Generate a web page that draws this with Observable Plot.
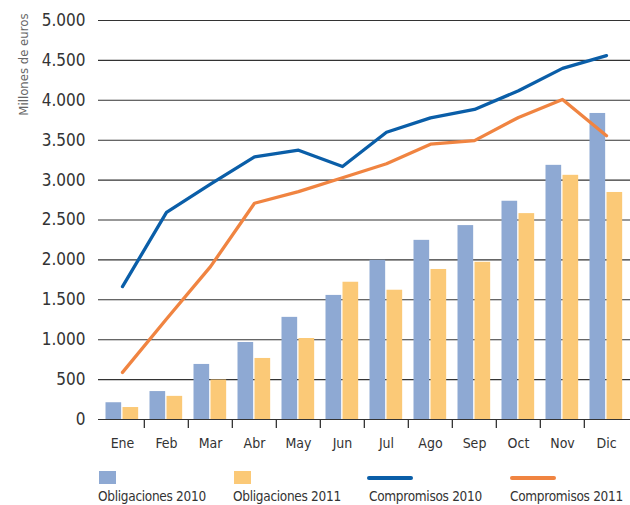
<!DOCTYPE html>
<html>
<head>
<meta charset="utf-8">
<script src="https://cdn.jsdelivr.net/npm/d3@7"></script>
<script src="https://cdn.jsdelivr.net/npm/@observablehq/plot@0.6"></script>
<style>
  html, body { margin: 0; padding: 0; background: #fff; }
  #wrap { position: relative; width: 630px; height: 505px; font-family: "Liberation Sans Narrow", "DejaVu Sans Condensed", "Roboto", sans-serif; color: #333; }
  #chart { position: absolute; left: 0; top: 0; }
  .sw { position: absolute; width: 17px; height: 13px; }
  .ln { position: absolute; width: 46px; height: 4px; border-radius: 2px; }
  .lt { position: absolute; font-size: 13.5px; letter-spacing: -0.3px; line-height: 14px; white-space: nowrap; color: #333; }
</style>
</head>
<body>
<div id="wrap">
  <div id="chart"></div>
</div>
<script>
const months = ["Ene","Feb","Mar","Abr","May","Jun","Jul","Ago","Sep","Oct","Nov","Dic"];
const oblig2010 = [210, 350, 690, 965, 1280, 1555, 1995, 2245, 2430, 2735, 3185, 3835];
const oblig2011 = [150, 290, 495, 765, 1015, 1720, 1620, 1880, 1970, 2580, 3060, 2845];
const comp2010  = [1665, 2595, 2950, 3290, 3375, 3170, 3600, 3780, 3885, 4120, 4400, 4560];
const comp2011  = [590, 1260, 1915, 2710, 2855, 3030, 3205, 3450, 3495, 3785, 4010, 3555];
const yTicks = [0, 500, 1000, 1500, 2000, 2500, 3000, 3500, 4000, 4500, 5000];
const seriesNames = ["Obligaciones 2010", "Obligaciones 2011", "Compromisos 2010", "Compromisos 2011"];
const seriesColors = ["#8ea9d3", "#fbc977", "#0a5ea8", "#f08441"];

const W = 630, H = 455, mL = 98, mR = 0, mT = 20, mB = 36;
const bw = (W - mL - mR) / months.length;

const es = d3.formatLocale({decimal: ",", thousands: ".", grouping: [3], currency: ["", " €"]});
const fmt = es.format(",");

const rows1 = months.map((m, i) => ({month: m, value: oblig2010[i]}));
const rows2 = months.map((m, i) => ({month: m, value: oblig2011[i]}));
const line1 = months.map((m, i) => ({month: m, value: comp2010[i]}));
const line2 = months.map((m, i) => ({month: m, value: comp2011[i]}));

const chart = Plot.plot({
  width: W, height: H,
  marginLeft: mL, marginRight: mR, marginTop: mT, marginBottom: mB,
  style: {fontFamily: '"Liberation Sans Narrow", "DejaVu Sans Condensed", Roboto, sans-serif', color: "#333", background: "white"},
  x: {domain: months, padding: 0, axis: null},
  y: {domain: [0, 5000], axis: null},
  marks: [
    Plot.gridY(yTicks, {stroke: "#333", strokeOpacity: 1, strokeWidth: 1.1}),
    Plot.barY(rows1, {x: "month", y: "value", fill: seriesColors[0], insetLeft: 5.5, insetRight: bw - 21.5}),
    Plot.barY(rows2, {x: "month", y: "value", fill: seriesColors[1], insetLeft: 22.5, insetRight: bw - 38.5}),
    Plot.ruleY([0], {stroke: "#333", strokeWidth: 1.2}),
    Plot.ruleX(months.slice(1), {x: d => d, dx: -bw / 2, stroke: "#333", strokeWidth: 1.3, insetTop: H - mT - mB, insetBottom: -9}),
    Plot.line(line1, {x: "month", y: "value", stroke: seriesColors[2], strokeWidth: 3.3}),
    Plot.line(line2, {x: "month", y: "value", stroke: seriesColors[3], strokeWidth: 3.3}),
    Plot.axisY(yTicks, {tickSize: 0, tickPadding: 13, tickFormat: fmt, fontSize: 17, label: null, fill: "#333"}),
    Plot.axisX({tickSize: 0, tickPadding: 19, fontSize: 14, label: null, fill: "#333"}),
    Plot.text(["Millones de euros"], {frameAnchor: "top-left", rotate: -90, textAnchor: "end", dx: -79.5, dy: -7, fontSize: 13, fill: "#666"})
  ]
});
document.getElementById("chart").appendChild(chart);

// legend
const wrap = document.getElementById("wrap");
const legendX = [98, 233, 369, 510];
const swatchX = [99, 234, 367, 510];
seriesNames.forEach((name, i) => {
  const sw = document.createElement("div");
  if (i < 2) {
    sw.className = "sw";
    sw.style.left = swatchX[i] + "px";
    sw.style.top = "471px";
  } else {
    sw.className = "ln";
    sw.style.left = swatchX[i] + "px";
    sw.style.top = "476px";
  }
  sw.style.background = seriesColors[i];
  wrap.appendChild(sw);
  const t = document.createElement("div");
  t.className = "lt";
  t.style.left = legendX[i] + "px";
  t.style.top = "489px";
  t.textContent = name;
  wrap.appendChild(t);
});
</script>
</body>
</html>
